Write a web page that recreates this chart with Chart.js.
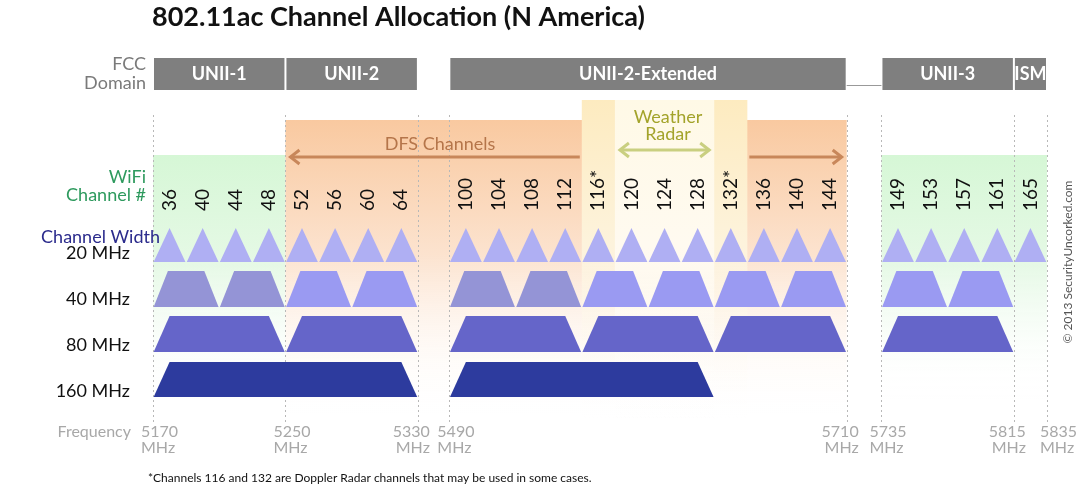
<!DOCTYPE html>
<html><head><meta charset="utf-8">
<script src="https://cdn.jsdelivr.net/npm/chart.js@4.4.0/dist/chart.umd.min.js"></script>
<style>html,body{margin:0;padding:0;background:#fff}#c{display:block}</style>
</head><body>
<canvas id="c" width="1080" height="487"></canvas>
<script>
// ---- data ----
const channels20 = [36,40,44,48,52,56,60,64,100,104,108,112,116,120,124,128,132,136,140,144,149,153,157,161,165];
const channelLabels = ['36','40','44','48','52','56','60','64','100','104','108','112','116*','120','124','128','132*','136','140','144','149','153','157','161','165'];
const channels40 = [36,44,52,60,100,108,116,124,132,140,149,157];
const channels80 = [36,52,100,116,132,149];
const channels160 = [36,100];
const domains = [['UNII-1',36,48],['UNII-2',52,64],['UNII-2-Extended',100,144],['UNII-3',149,161],['ISM',165,165]];
const freqLabels = [['5170',36,'s'],['5250',52,'s'],['5330',64,'e'],['5490',100,'s'],['5710',144,'e'],['5735',149,'s'],['5815',161,'e'],['5835',165,'x']];
const rowY = {w20:[262,228], w40:[307,271], w80:[352,316], w160:[397,362]};

// slot start of channel (each 20 MHz channel = 1 slot, with gaps between sub-bands)
function slot(ch){
  if (ch <= 64) return (ch-36)/4;
  if (ch <= 144) return 8.95 + (ch-100)/4;
  return 22.0 + (ch-149)/4;
}
function trap(ch, n, yb, yt, inset){
  const s = slot(ch);
  return [{x:s+0.02,y:yb},{x:s+inset,y:yt},{x:s+n-inset,y:yt},{x:s+n-0.02,y:yb},{x:s+0.02,y:yb}];
}
function ds(data,color){
  return {data,backgroundColor:color,borderColor:color,borderWidth:0,fill:'shape',pointRadius:0,tension:0};
}
const datasets = [];
channels20.forEach(c=>datasets.push(ds(trap(c,1,rowY.w20[0],rowY.w20[1],0.5),'#afaff3')));
channels40.forEach(c=>datasets.push(ds(trap(c,2,rowY.w40[0],rowY.w40[1],0.45),(c<=48||c==100||c==108)?'#9494d6':'#9a9af2')));
channels80.forEach(c=>datasets.push(ds(trap(c,4,rowY.w80[0],rowY.w80[1],0.5),'#6565c9')));
channels160.forEach(c=>datasets.push(ds(trap(c,8,rowY.w160[0],rowY.w160[1],0.5),'#2d3b9e')));

const deco = {
  id:'deco',
  beforeDatasetsDraw(chart){
    const ctx=chart.ctx, X=chart.scales.x, Y=chart.scales.y;
    const px=v=>X.getPixelForValue(v), py=v=>Y.getPixelForValue(v);
    ctx.save();
    function grad(y0,y1,stops){const g=ctx.createLinearGradient(0,py(y0),0,py(y1));stops.forEach(s=>g.addColorStop(s[0],s[1]));return g;}
    ctx.fillStyle=grad(155,400,[[0,'#d6f7d6'],[0.45,'#e6f9e6'],[1,'rgba(255,255,255,0)']]);
    ctx.fillRect(px(slot(36)),py(155),px(slot(52))-px(slot(36)),py(400)-py(155));
    ctx.fillRect(px(slot(149)),py(155),px(slot(165)+1)-px(slot(149)),py(400)-py(155));
    ctx.fillStyle=grad(120,420,[[0,'#f9c9a0'],[0.45,'#fce3cf'],[1,'rgba(255,255,255,0)']]);
    ctx.fillRect(px(slot(52)),py(120),px(slot(144)+1)-px(slot(52)),py(420)-py(120));
    ctx.fillStyle=grad(100,420,[[0,'#fdebc0'],[0.45,'#fdf3dc'],[1,'rgba(255,255,255,0)']]);
    ctx.fillRect(px(slot(116)),py(100),px(slot(132)+1)-px(slot(116)),py(420)-py(100));
    ctx.fillStyle=grad(100,420,[[0,'#fff9e6'],[0.45,'#fffaf0'],[1,'rgba(255,255,255,0)']]);
    ctx.fillRect(px(slot(120)),py(100),px(slot(132))-px(slot(120)),py(420)-py(100));
    ctx.strokeStyle='#b8b8b8';ctx.lineWidth=1;ctx.setLineDash([2,3]);
    [slot(36),slot(52),slot(64)+1,slot(100),slot(144)+1,slot(149),slot(161)+1,slot(165)+1].forEach(v=>{
      ctx.beginPath();ctx.moveTo(Math.round(px(v))+0.5,py(115));ctx.lineTo(Math.round(px(v))+0.5,py(425));ctx.stroke();});
    ctx.setLineDash([]);
    ctx.restore();
  },
  afterDatasetsDraw(chart){
    const ctx=chart.ctx, X=chart.scales.x, Y=chart.scales.y;
    const px=v=>X.getPixelForValue(v), py=v=>Y.getPixelForValue(v);
    const F='Lato, "Open Sans", sans-serif';
    ctx.save();
    ctx.textBaseline='middle';
    ctx.fillStyle='#111';ctx.font='bold 27px '+F;ctx.textAlign='left';
    ctx.fillText('802.11ac Channel Allocation (N America)',152,17);
    ctx.fillStyle='#7a7a7a';ctx.font='18px '+F;ctx.textAlign='right';
    ctx.fillText('FCC',146,64);ctx.fillText('Domain',146,83);
    domains.forEach(d=>{
      const x0=px(slot(d[1]))+1,x1=px(slot(d[2])+1)-1;
      ctx.fillStyle='#7f7f7f';ctx.fillRect(x0,py(58),x1-x0,py(90)-py(58));
      ctx.fillStyle='#fff';ctx.font='bold 18px '+F;ctx.textAlign='center';
      ctx.fillText(d[0],(x0+x1)/2,py(74));
    });
    ctx.strokeStyle='#999';ctx.lineWidth=1;ctx.beginPath();
    ctx.moveTo(px(slot(144)+1),py(85)+0.5);ctx.lineTo(px(slot(149)),py(85)+0.5);ctx.stroke();
    ctx.textAlign='right';ctx.font='18px '+F;
    ctx.fillStyle='#2e9a5e';ctx.fillText('WiFi',146,177);ctx.fillText('Channel #',146,195);
    ctx.fillStyle='#2b2b8c';ctx.fillText('Channel Width',160,237);
    ctx.fillStyle='#111';
    ctx.fillText('20 MHz',130,253);ctx.fillText('40 MHz',130,299);ctx.fillText('80 MHz',130,345);ctx.fillText('160 MHz',130,391);
    ctx.font='19px '+F;ctx.fillStyle='#111';
    channels20.forEach((c,i)=>{
      ctx.save();ctx.translate(px(slot(c)+0.5),py(211));ctx.rotate(-Math.PI/2);
      ctx.textAlign='left';ctx.fillText(channelLabels[i],0,0);ctx.restore();
    });
    ctx.fillStyle='#b5754a';ctx.font='18px '+F;ctx.textAlign='center';
    ctx.fillText('DFS Channels',440,144);
    function arrow(x0,x1,y,col,head0,head1){
      ctx.strokeStyle=col;ctx.fillStyle=col;ctx.lineWidth=3;ctx.beginPath();ctx.moveTo(x0,y);ctx.lineTo(x1,y);ctx.stroke();
      if(head0){ctx.beginPath();ctx.moveTo(x0+9,y-7);ctx.lineTo(x0,y);ctx.lineTo(x0+9,y+7);ctx.stroke();}
      if(head1){ctx.beginPath();ctx.moveTo(x1-9,y-7);ctx.lineTo(x1,y);ctx.lineTo(x1-9,y+7);ctx.stroke();}
    }
    arrow(px(slot(52))+5,px(slot(116))-2,py(157),'#c8875a',true,false);
    arrow(px(slot(132)+1)+2,px(slot(144)+1)-5,py(157),'#c8875a',false,true);
    ctx.fillStyle='#a3a32a';ctx.fillText('Weather',668,117);ctx.fillText('Radar',668,134);
    arrow(px(slot(120))+5,px(slot(128)+1)-5,py(150),'#c9cf80',true,true);
    ctx.fillStyle='#a8a8a8';ctx.font='16px '+F;ctx.textAlign='right';
    ctx.fillText('Frequency',131,432);
    freqLabels.forEach(f=>{
      let x;
      if(f[2]=='s'){ctx.textAlign='left';x=px(slot(f[1]))-12;}
      else if(f[2]=='e'){ctx.textAlign='right';x=px(slot(f[1])+1)+12;}
      else {ctx.textAlign='left';x=px(slot(f[1])+1)-7;}
      ctx.fillText(f[0],x,432);ctx.fillText('MHz',x,448);
    });
    ctx.fillStyle='#111';ctx.font='12px '+F;ctx.textAlign='left';
    ctx.fillText('*Channels 116 and 132 are Doppler Radar channels that may be used in some cases.',148,478);
    ctx.save();ctx.translate(1068,262);ctx.rotate(-Math.PI/2);ctx.fillStyle='#555';ctx.font='12px '+F;ctx.textAlign='center';
    ctx.fillText('© 2013 SecurityUncorked.com',0,0);ctx.restore();
    ctx.restore();
  }
};

new Chart(document.getElementById('c'),{
  type:'line',
  data:{datasets},
  options:{
    responsive:false,animation:false,
    layout:{padding:{left:153,right:33,top:0,bottom:0}},
    plugins:{legend:{display:false},tooltip:{enabled:false}},
    scales:{
      x:{type:'linear',min:0,max:27,display:false},
      y:{type:'linear',min:0,max:487,reverse:true,display:false}
    }
  },
  plugins:[deco]
});
</script>
</body></html>
